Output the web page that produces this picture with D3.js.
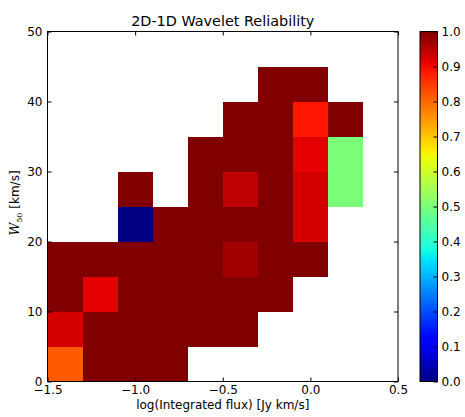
<!DOCTYPE html>
<html><head><meta charset="utf-8">
<script src="https://cdn.jsdelivr.net/npm/d3@7"></script>
<style>body{margin:0;background:#fff}</style>
</head><body>
<svg id="c" width="465" height="417"></svg>
<script>
// Data: left edges of bins (width 0.2 in x, 5 in y) and reliability per row (null = empty)
const xLeft = [-1.5, -1.3, -1.1, -0.9, -0.7, -0.5, -0.3, -0.1, 0.1];
const yLow = [0, 5, 10, 15, 20, 25, 30, 35, 40];
const row0 = [0.815, 1, 1, 1, null, null, null, null, null];
const row1 = [0.927, 1, 1, 1, 1, 1, null, null, null];
const row2 = [1, 0.912, 1, 1, 1, 1, 1, null, null];
const row3 = [1, 1, 1, 1, 1, 0.972, 1, 1, null];
const row4 = [null, null, 0.0, 1, 1, 1, 1, 0.927, null];
const row5 = [null, null, 1, null, 1, 0.945, 1, 0.927, 0.5];
const row6 = [null, null, null, null, 1, 1, 1, 0.912, 0.5];
const row7 = [null, null, null, null, null, 1, 1, 0.888, 1];
const row8 = [null, null, null, null, null, null, 1, 1, null];
const rows = [row0, row1, row2, row3, row4, row5, row6, row7, row8];
const xTicks = [-1.5, -1.0, -0.5, 0.0, 0.5];
const yTicks = [0, 10, 20, 30, 40, 50];
const cTicks = [0, 0.1, 0.2, 0.3, 0.4, 0.5, 0.6, 0.7, 0.8, 0.9, 1.0];
const binW = 0.2, binH = 5;

// jet colormap (matplotlib)
const jetR = [[0,0],[0.35,0],[0.66,1],[0.89,1],[1,0.5]];
const jetG = [[0,0],[0.125,0],[0.375,1],[0.64,1],[0.91,0],[1,0]];
const jetB = [[0,0.5],[0.11,1],[0.34,1],[0.65,0],[1,0]];
function seg(p, v){
  for (let i=1;i<p.length;i++){
    if (v <= p[i][0]) { const t=(v-p[i-1][0])/(p[i][0]-p[i-1][0]); return p[i-1][1]+t*(p[i][1]-p[i-1][1]); }
  }
  return p[p.length-1][1];
}
function jet(v){ return d3.rgb(255*seg(jetR,v), 255*seg(jetG,v), 255*seg(jetB,v)).formatHex(); }

const svg = d3.select('#c');
const L=47.5, R=398, T=31.5, B=381.5;
const x = d3.scaleLinear().domain([-1.5,0.5]).range([L,R]);
const y = d3.scaleLinear().domain([0,50]).range([B,T]);
const font = 'DejaVu Sans, sans-serif';

// cells
const cells = [];
rows.forEach((r,i)=> r.forEach((v,j)=>{ if(v!==null) cells.push({x0:xLeft[j], y0:yLow[i], v}); }));
svg.append('g').attr('shape-rendering','crispEdges').selectAll('rect').data(cells).join('rect')
  .attr('x', d=>x(d.x0)).attr('y', d=>y(d.y0+binH))
  .attr('width', d=>x(d.x0+binW)-x(d.x0)+0.5).attr('height', d=>y(d.y0)-y(d.y0+binH)+0.5)
  .attr('fill', d=>jet(d.v));

// axes frame
svg.append('rect').attr('x',L).attr('y',T).attr('width',R-L).attr('height',B-T)
  .attr('fill','none').attr('stroke','#000').attr('stroke-width',1);

const fmt = v => (v<0?'\u2212':'') + Math.abs(v).toFixed(1);
// x ticks (inward, bottom & top)
const gx = svg.append('g').attr('transform',`translate(0,${B})`)
  .call(d3.axisBottom(x).tickValues(xTicks).tickSize(-4).tickPadding(4).tickFormat(fmt));
const gxt = svg.append('g').attr('transform',`translate(0,${T})`)
  .call(d3.axisTop(x).tickValues(xTicks).tickSize(-4).tickFormat(''));
const gy = svg.append('g').attr('transform',`translate(${L},0)`)
  .call(d3.axisLeft(y).tickValues(yTicks).tickSize(-4).tickPadding(5).tickFormat(d3.format('d')));
const gyr = svg.append('g').attr('transform',`translate(${R},0)`)
  .call(d3.axisRight(y).tickValues(yTicks).tickSize(-4).tickFormat(''));
[gx,gxt,gy,gyr].forEach(g=>{
  g.select('.domain').remove();
  g.selectAll('.tick line').attr('stroke','#000');
  g.selectAll('text').attr('font-family',font).attr('font-size','12px').attr('fill','#000');
});

// title
svg.append('text').attr('x',(L+R)/2).attr('y',26).attr('text-anchor','middle')
  .attr('font-family',font).attr('font-size','14.4px').text('2D-1D Wavelet Reliability');
// x label
svg.append('text').attr('x',(L+R)/2).attr('y',409).attr('text-anchor','middle')
  .attr('font-family',font).attr('font-size','12px').text('log(Integrated flux) [Jy km/s]');
// y label
const yl = svg.append('text').attr('transform',`translate(19,203) rotate(-90)`)
  .attr('text-anchor','middle').attr('font-family',font).attr('font-size','12px');
yl.append('tspan').attr('font-family','DejaVu Serif, serif').attr('font-style','italic').attr('font-size','12.5px').text('W');
yl.append('tspan').attr('font-family','DejaVu Serif, serif').attr('font-size','8px').attr('dy','2.5').text('50');
yl.append('tspan').attr('dy','-2.5').text(' [km/s]');

// colorbar
const CL=420, CR=437.5;
const cy = d3.scaleLinear().domain([0,1]).range([B,T]);
const defs = svg.append('defs');
const grad = defs.append('linearGradient').attr('id','jetg').attr('x1',0).attr('y1',1).attr('x2',0).attr('y2',0);
d3.range(0,257).forEach(i=>{ const v=i/256; grad.append('stop').attr('offset',v).attr('stop-color',jet(v)); });
svg.append('rect').attr('x',CL).attr('y',T).attr('width',CR-CL).attr('height',B-T).attr('fill','url(#jetg)');
svg.append('rect').attr('x',CL).attr('y',T).attr('width',CR-CL).attr('height',B-T)
  .attr('fill','none').attr('stroke','#000').attr('stroke-width',1);
const gc = svg.append('g').attr('transform',`translate(${CR},0)`)
  .call(d3.axisRight(cy).tickValues(cTicks).tickSize(-4).tickPadding(4).tickFormat(d3.format('.1f')));
gc.select('.domain').remove();
gc.selectAll('.tick line').attr('stroke','#000');
gc.selectAll('text').attr('font-family',font).attr('font-size','12px').attr('fill','#000');
</script>
</body></html>
